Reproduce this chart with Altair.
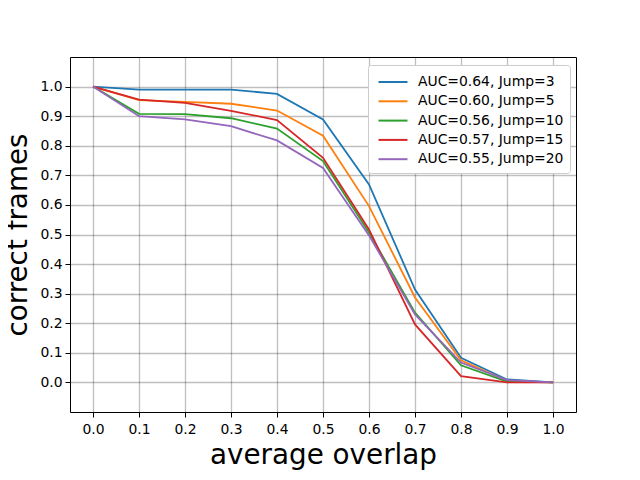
import altair as alt
import pandas as pd

overlap = [0.0, 0.1, 0.2, 0.3, 0.4, 0.5, 0.6, 0.7, 0.8, 0.9, 1.0]
series_names = [
    "AUC=0.64, Jump=3",
    "AUC=0.60, Jump=5",
    "AUC=0.56, Jump=10",
    "AUC=0.57, Jump=15",
    "AUC=0.55, Jump=20",
]
jump3 = [1.0, 0.990, 0.990, 0.990, 0.975, 0.889, 0.669, 0.314, 0.083, 0.010, 0.0]
jump5 = [1.0, 0.954, 0.948, 0.942, 0.919, 0.834, 0.596, 0.287, 0.075, 0.005, 0.0]
jump10 = [1.0, 0.908, 0.907, 0.893, 0.858, 0.748, 0.507, 0.236, 0.058, 0.003, 0.0]
jump15 = [1.0, 0.956, 0.945, 0.918, 0.887, 0.759, 0.517, 0.196, 0.021, 0.0, 0.0]
jump20 = [1.0, 0.900, 0.889, 0.866, 0.818, 0.725, 0.497, 0.230, 0.067, 0.008, 0.0]
colors = ["#1f77b4", "#ff7f0e", "#2ca02c", "#d62728", "#9467bd"]

rows = []
for i, (name, vals) in enumerate(zip(series_names, [jump3, jump5, jump10, jump15, jump20])):
    for x, y in zip(overlap, vals):
        rows.append({"overlap": x, "frames": y, "series": name, "order": i})
df = pd.DataFrame(rows)

ticks = overlap
font = "DejaVu Sans"

chart = alt.Chart(df).mark_line(strokeWidth=1.8).encode(
    x=alt.X("overlap:Q",
            scale=alt.Scale(domain=[-0.05, 1.05], nice=False, zero=False),
            axis=alt.Axis(values=ticks, format=".1f", title="average overlap")),
    y=alt.Y("frames:Q",
            scale=alt.Scale(domain=[-0.1, 1.1], nice=False, zero=False),
            axis=alt.Axis(values=ticks, format=".1f", title="correct frames")),
    color=alt.Color("series:N",
                    scale=alt.Scale(domain=series_names, range=colors),
                    sort=series_names,
                    legend=alt.Legend(title=None, orient="none", legendX=298, legendY=8,
                                      symbolType="M-1.45,0H1.45", symbolSize=400,
                                      symbolStrokeWidth=2, symbolOffset=8,
                                      labelFontSize=13.9, labelFont=font, labelColor="black",
                                      labelOffset=14, rowPadding=1.3,
                                      padding=6, strokeColor="#cccccc", fillColor="white",
                                      cornerRadius=3, labelLimit=300)),
    order=alt.Order("order:Q"),
).properties(
    width=506, height=355,
    autosize=alt.AutoSizeParams(type="none"),
    padding={"left": 62, "top": 49, "right": 56, "bottom": 60},
).configure_view(
    stroke="black", strokeWidth=1,
).configure_axis(
    labelFont=font, labelFontSize=13.9, labelColor="black",
    titleFont=font, titleFontSize=27.8, titleFontWeight="normal", titleColor="black",
    domain=False, tickColor="black", tickSize=5, tickWidth=1,
    gridColor="black", gridOpacity=0.25, gridWidth=1.3,
    labelPadding=3,
).configure_axisX(
    titlePadding=6, labelPadding=5,
).configure_axisY(
    titlePadding=7,
)

chart.save("out.html", embed_options={"renderer": "svg", "actions": False})
